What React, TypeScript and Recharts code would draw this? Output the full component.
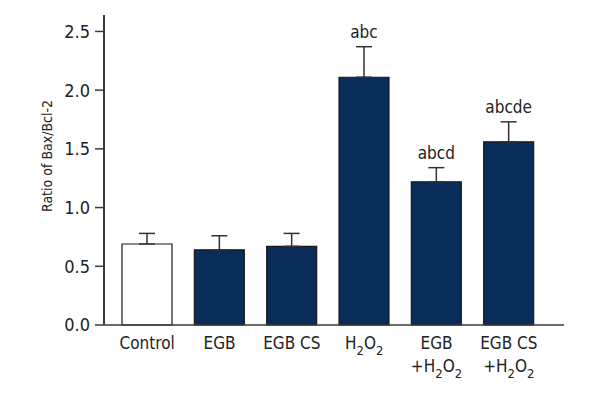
import React from 'react';
import { BarChart, Bar, XAxis, YAxis, ErrorBar, LabelList, Cell } from 'recharts';

const categories = ['Control', 'EGB', 'EGB CS', 'H2O2', 'EGB|+H2O2', 'EGB CS|+H2O2'];
const means = [0.69, 0.64, 0.67, 2.11, 1.22, 1.56];
const sems = [0.09, 0.12, 0.11, 0.26, 0.12, 0.17];
const letters = ['', '', '', 'abc', 'abcd', 'abcde'];
const yTicks = [0, 0.5, 1.0, 1.5, 2.0, 2.5];

const navy = '#0a2c58';
const ink = '#222';
const axisColor = '#3a3a3a';
const font = '"DejaVu Sans Condensed", "DejaVu Sans", sans-serif';
const txt: React.CSSProperties = { fontStretch: 'condensed' };

const data = categories.map((c, i) => ({
  name: c,
  mean: means[i],
  err: [0, sems[i]],
  sig: letters[i],
}));

// H2O2 with subscript 2s
const renderChem = (line: string) => {
  const parts = line.split(/(H2O2)/);
  const out: React.ReactNode[] = [];
  parts.forEach((p, k) => {
    if (p === 'H2O2') {
      out.push(<tspan key={k + 'a'}>H</tspan>);
      out.push(<tspan key={k + 'b'} dy={6} fontSize={13}>2</tspan>);
      out.push(<tspan key={k + 'c'} dy={-6}>O</tspan>);
      out.push(<tspan key={k + 'd'} dy={6} fontSize={13}>2</tspan>);
    } else if (p) {
      out.push(<tspan key={k}>{p}</tspan>);
    }
  });
  return out;
};

const XTick = ({ x, y, payload }: any) => {
  const lines = String(payload.value).split('|');
  return (
    <g>
      {lines.map((ln, i) => (
        <text key={i} x={x} y={y + 16 + i * 23} textAnchor="middle" fill={ink} fontSize={17} fontFamily={font} style={txt}>
          {renderChem(ln)}
        </text>
      ))}
    </g>
  );
};

const SigLabel = (props: any) => {
  const { x, y, width, height, value, index } = props;
  if (!value) return null;
  const perUnit = height / means[index];
  const top = y - sems[index] * perUnit;
  return (
    <text x={x + width / 2} y={top - 9} textAnchor="middle" fill={ink} fontSize={17} fontFamily={font} style={txt}>
      {value}
    </text>
  );
};

const YLabel = ({ viewBox }: any) => {
  const cx = viewBox.x + 47;
  const cy = viewBox.y + viewBox.height / 2 - 14;
  return (
    <text x={cx} y={cy} transform={`rotate(-90 ${cx} ${cy})`} textAnchor="middle" dominantBaseline="central" fill={ink} fontSize={14} fontFamily={font} style={txt}>
      Ratio of Bax/Bcl-2
    </text>
  );
};

export default function App() {
  return (
    <div style={{ position: 'absolute', left: 0, top: 0, width: 600, height: 400, background: '#fff' }}>
      <BarChart width={600} height={400} data={data} margin={{ top: 15, right: 36, bottom: 0, left: 0 }} barSize={50}>
        <XAxis
          dataKey="name"
          tick={<XTick />}
          tickLine={false}
          axisLine={{ stroke: axisColor, strokeWidth: 1.6 }}
          padding={{ left: 7, right: 19 }}
          height={75}
          interval={0}
        />
        <YAxis
          width={104}
          domain={[0, 2.64]}
          ticks={yTicks}
          tickFormatter={(v: number) => v.toFixed(1)}
          tick={{ fill: ink, fontSize: 18, fontFamily: font, style: txt }}
          tickSize={9}
          tickMargin={5}
          tickLine={{ stroke: axisColor, strokeWidth: 1.5 }}
          axisLine={{ stroke: axisColor, strokeWidth: 2 }}
          label={<YLabel />}
        />
        <Bar dataKey="mean" stroke="#1a1a1a" strokeWidth={1.2} isAnimationActive={false}>
          {data.map((d, i) => (
            <Cell key={d.name} fill={i === 0 ? '#ffffff' : navy} />
          ))}
          <ErrorBar dataKey="err" width={8} stroke="#333" strokeWidth={1.5} direction="y" />
          <LabelList dataKey="sig" content={<SigLabel />} />
        </Bar>
      </BarChart>
    </div>
  );
}
